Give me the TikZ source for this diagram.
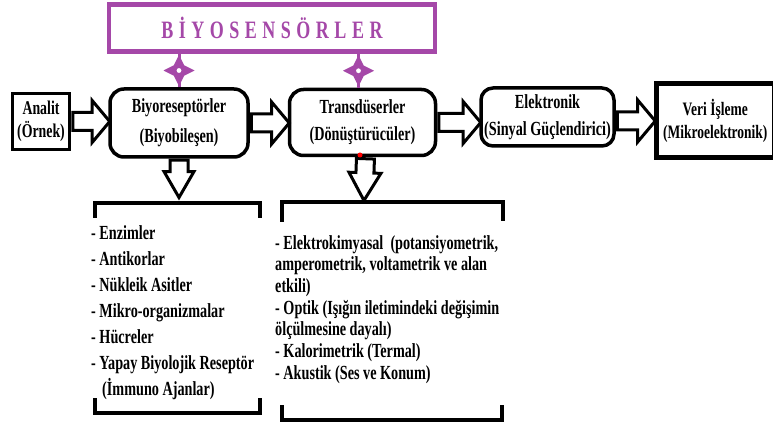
\documentclass[tikz,border=0pt]{standalone}
\usepackage{fontspec}
\setmainfont{Liberation Serif}[FakeStretch=0.71]
\newfontfamily\titlefont{Liberation Serif}[FakeStretch=0.72, LetterSpace=22]
\usetikzlibrary{shapes.geometric, shapes.arrows, positioning, calc}
\definecolor{bioPurple}{RGB}{165, 72, 168}

\begin{document}
\begin{tikzpicture}[
    x=1pt, y=-1pt,
    squarebox/.style={rectangle, draw=black, line width=3.5pt, fill=white, align=center, inner sep=2pt, font=\bfseries\fontsize{19.5}{23}\selectfont},
    roundbox/.style={squarebox, rounded corners=14pt, font=\bfseries\fontsize{20}{27}\selectfont},
    titlebox/.style={rectangle, draw=bioPurple, line width=4.5pt, fill=white, text=bioPurple, font=\titlefont\bfseries\fontsize{25}{25}\selectfont},
    sparkle/.style={star, star points=4, star point ratio=2.1, fill=bioPurple, minimum size=31pt, inner sep=0pt, path picture={\fill[white] (path picture bounding box.center) circle (2.4pt);}},
    purpleline/.style={draw=bioPurple, line width=3pt},
    blockarrow/.style={single arrow, draw=black, fill=white, line width=3pt, inner sep=7.5pt, minimum width=0pt, single arrow head extend=12pt, single arrow tip angle=100},
    hollow/.style={to path={let \p1=($(\tikztotarget)-(\tikztostart)$), \n1={veclen(\x1,\y1)}, \n2={atan2(\y1,\x1)} in node[blockarrow, #1, minimum height=\n1, rotate=\n2, anchor=tail] at (\tikztostart) {}}},
    hollow/.default={},
    listtext/.style={align=left, inner sep=0pt, anchor=north west, font=\bfseries\fontsize{20}{26}\selectfont},
    bracket/.style={line width=4.5pt}
]
    \useasboundingbox (0,0) rectangle (773,427);

    % Nodes
    \node[titlebox, minimum width=326pt, minimum height=47pt] (title) at (272,28) {BİYOSENSÖRLER};
    \node[squarebox, minimum width=57pt, minimum height=56pt] (analit) at (41,121.5) {Analit\\(Örnek)};
    \node[roundbox, font=\bfseries\fontsize{20}{30}\selectfont, minimum width=138pt, minimum height=68pt, right=37pt of analit, yshift=-1.5pt] (bio) {Biyoreseptörler\\(Biyobileşen)};
    \node[roundbox, minimum width=146pt, minimum height=66pt, right=38pt of bio, yshift=0.5pt] (trans) {Transdüserler\\(Dönüştürücüler)};
    \node[roundbox, rounded corners=12pt, minimum width=133pt, minimum height=58pt, right=42pt of trans, yshift=5.5pt] (elek) {Elektronik\\(Sinyal Güçlendirici)};
    \node[squarebox, line width=5pt, inner sep=1pt, font=\bfseries\fontsize{19}{23}\selectfont, minimum width=118pt, minimum height=74pt, right=38pt of elek, yshift=-4pt] (veri) {Veri İşleme\\(Mikroelektronik)};

    \node[listtext] (bioList) at (91,225) {- Enzimler\\- Antikorlar\\- Nükleik Asitler\\- Mikro-organizmalar\\- Hücreler\\- Yapay Biyolojik Reseptör\\\hspace*{11pt}(İmmuno Ajanlar)};
    \node[listtext, font=\bfseries\fontsize{20}{21.7}\selectfont] (transList) at (275,235) {- Elektrokimyasal~ (potansiyometrik,\\amperometrik, voltametrik ve alan\\etkili)\\- Optik (Işığın iletimindeki değişimin\\ölçülmesine dayalı)\\- Kalorimetrik (Termal)\\- Akustik (Ses ve Konum)};

    % Brackets
    \draw[bracket] (95,218) -- (95,203) -- (260,203) -- (260,218);
    \draw[bracket] (95,398) -- (95,413) -- (260,413) -- (260,398);
    \draw[bracket] (282,222) -- (282,202) -- (503,202) -- (503,221);
    \draw[bracket] (282,405) -- (282,420) -- (502,420) -- (502,405);

    % Links
    \coordinate (transTop) at ([xshift=-4pt]trans.north);
    \draw[purpleline] (title.south -| bio.north) -- node[sparkle] {} (bio.north);
    \draw[purpleline] (title.south -| transTop) -- node[sparkle] {} (transTop);

    \draw[hollow] (analit.east) to (analit.east -| bio.west);
    \draw[hollow] (bio.east) to (bio.east -| trans.west);
    \draw[hollow] (trans.east) to (trans.east -| elek.west);
    \draw[hollow] (veri.west -| elek.east) to (veri.west);

    \coordinate (bioTip) at (178,196);
    \coordinate (transTip) at (364,199);
    \draw[hollow={single arrow tip angle=60, single arrow head extend=6pt}] (bio.south) to (bio.south |- bioTip);
    \draw[hollow={single arrow tip angle=60, single arrow head extend=7pt}] ([xshift=3pt]trans.south) to (transTip);
    \fill[red] (360,155) circle (2.5pt);
\end{tikzpicture}
\end{document}
